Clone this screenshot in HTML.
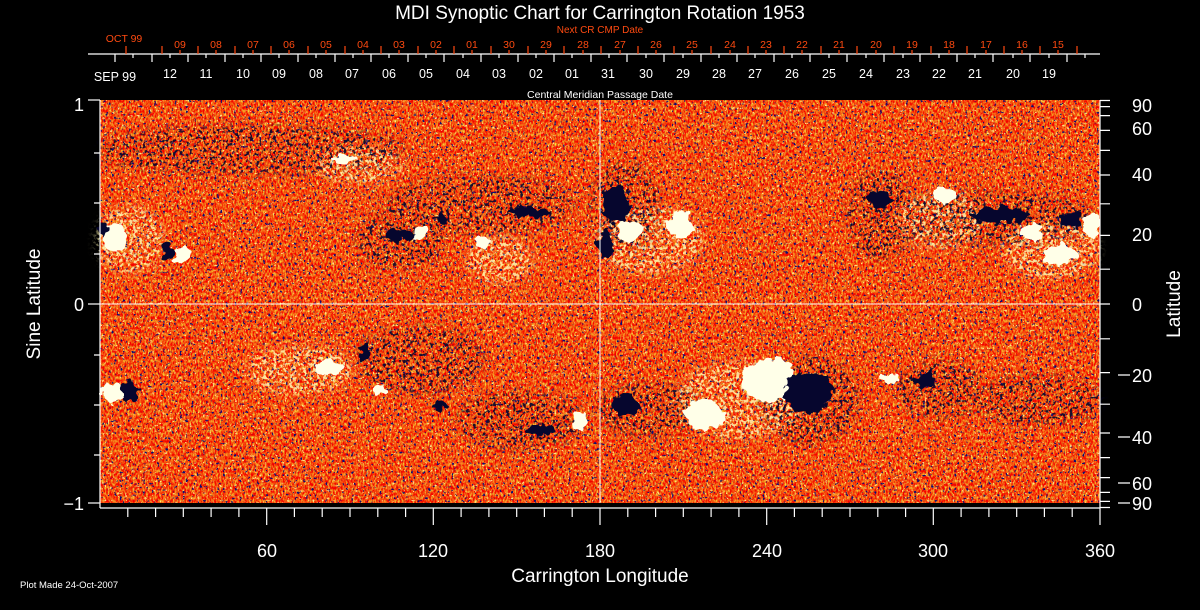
<!DOCTYPE html>
<html><head><meta charset="utf-8"><style>
html,body{margin:0;padding:0;background:#000;}
svg{display:block;}
text{font-family:"Liberation Sans",sans-serif;}
</style></head><body>
<svg width="1200" height="610" viewBox="0 0 1200 610" xmlns="http://www.w3.org/2000/svg">
<defs>
<filter id="tex" x="0" y="0" width="100%" height="100%" color-interpolation-filters="sRGB">
<feTurbulence type="fractalNoise" baseFrequency="0.6 0.3" numOctaves="2" seed="7"/>
<feColorMatrix type="matrix" values="0 0 0 0 0.96  1.7 0 0 0 -0.55  0.5 0 0 0 -0.2  0 0 0 0 1"/>
</filter>
<filter id="dk" x="0" y="0" width="100%" height="100%" color-interpolation-filters="sRGB">
<feTurbulence type="fractalNoise" baseFrequency="0.35" numOctaves="2" seed="3"/>
<feColorMatrix type="matrix" values="0 0 0 0 0.05  0 0 0 0 0.05  0 0 0 0 0.45  12 0 0 0 -7.8"/>
</filter>
<filter id="wt" x="0" y="0" width="100%" height="100%" color-interpolation-filters="sRGB">
<feTurbulence type="fractalNoise" baseFrequency="0.4" numOctaves="2" seed="11"/>
<feColorMatrix type="matrix" values="0 0 0 0 1  0 0 0 0 0.95  0 0 0 0 0.6  12 0 0 0 -8.0"/>
</filter>
<filter id="rag" x="-20%" y="-20%" width="140%" height="140%" color-interpolation-filters="sRGB">
<feTurbulence type="fractalNoise" baseFrequency="0.12" numOctaves="2" seed="5" result="n"/>
<feDisplacementMap in="SourceGraphic" in2="n" scale="14" xChannelSelector="R" yChannelSelector="G"/>
</filter>
<filter id="net" x="-20%" y="-20%" width="140%" height="140%" color-interpolation-filters="sRGB">
<feGaussianBlur stdDeviation="6"/>
<feComponentTransfer result="b"><feFuncA type="linear" slope="2"/></feComponentTransfer>
<feTurbulence type="fractalNoise" baseFrequency="0.3" numOctaves="2" seed="9" result="n"/>
<feColorMatrix in="n" type="matrix" values="0 0 0 0 0  0 0 0 0 0  0 0 0 0 0  10 0 0 0 -5.6" result="m"/>
<feComposite in="b" in2="m" operator="in"/>
</filter>
<filter id="wnet" x="-20%" y="-20%" width="140%" height="140%" color-interpolation-filters="sRGB">
<feGaussianBlur stdDeviation="6"/>
<feComponentTransfer result="b"><feFuncA type="linear" slope="2"/></feComponentTransfer>
<feTurbulence type="fractalNoise" baseFrequency="0.3" numOctaves="2" seed="21" result="n"/>
<feColorMatrix in="n" type="matrix" values="0 0 0 0 0  0 0 0 0 0  0 0 0 0 0  10 0 0 0 -5.2" result="m"/>
<feComposite in="b" in2="m" operator="in"/>
</filter>
</defs>
<rect width="1200" height="610" fill="#000"/>
<rect x="100" y="100" width="1000" height="403" fill="#e8401a"/>
<rect x="100" y="100" width="1000" height="403" filter="url(#tex)"/>
<rect x="100" y="100" width="1000" height="403" filter="url(#wt)" opacity="0.9"/>
<rect x="100" y="100" width="1000" height="403" filter="url(#dk)"/>
<g fill="#fff6b0" filter="url(#wnet)" opacity="0.85">
<ellipse cx="360" cy="165" rx="40" ry="15"/>
<ellipse cx="650" cy="240" rx="50" ry="30"/>
<ellipse cx="740" cy="400" rx="60" ry="35"/>
<ellipse cx="1050" cy="250" rx="45" ry="25"/>
<ellipse cx="300" cy="370" rx="50" ry="20"/>
<ellipse cx="130" cy="240" rx="30" ry="30"/>
<ellipse cx="940" cy="220" rx="40" ry="25"/>
<ellipse cx="500" cy="260" rx="30" ry="20"/>
</g>
<g fill="#06062e" filter="url(#net)" opacity="0.9">
<ellipse cx="990" cy="218" rx="100" ry="22"/>
<ellipse cx="880" cy="215" rx="30" ry="40"/>
<ellipse cx="625" cy="205" rx="30" ry="40"/>
<ellipse cx="650" cy="410" rx="50" ry="22"/>
<ellipse cx="810" cy="400" rx="45" ry="40"/>
<ellipse cx="940" cy="390" rx="40" ry="25"/>
<ellipse cx="480" cy="205" rx="90" ry="25"/>
<ellipse cx="400" cy="240" rx="40" ry="25"/>
<ellipse cx="420" cy="360" rx="60" ry="30"/>
<ellipse cx="520" cy="420" rx="60" ry="25"/>
<ellipse cx="250" cy="150" rx="150" ry="20"/>
<ellipse cx="1040" cy="400" rx="60" ry="20"/>
</g>
<g fill="#ffffe8" filter="url(#rag)">
<ellipse cx="115" cy="238" rx="12" ry="15"/>
<ellipse cx="112" cy="392" rx="12" ry="10"/>
<ellipse cx="182" cy="254" rx="8" ry="8"/>
<ellipse cx="345" cy="160" rx="14" ry="4"/>
<ellipse cx="420" cy="232" rx="8" ry="6"/>
<ellipse cx="483" cy="243" rx="8" ry="5"/>
<ellipse cx="330" cy="368" rx="16" ry="7"/>
<ellipse cx="380" cy="390" rx="7" ry="5"/>
<ellipse cx="580" cy="420" rx="7" ry="10"/>
<ellipse cx="630" cy="230" rx="12" ry="12"/>
<ellipse cx="680" cy="225" rx="14" ry="12"/>
<ellipse cx="705" cy="415" rx="20" ry="16"/>
<ellipse cx="770" cy="380" rx="28" ry="22"/>
<ellipse cx="890" cy="378" rx="9" ry="5"/>
<ellipse cx="1032" cy="232" rx="10" ry="8"/>
<ellipse cx="1060" cy="255" rx="16" ry="11"/>
<ellipse cx="1092" cy="225" rx="8" ry="14"/>
<ellipse cx="945" cy="195" rx="12" ry="7"/>
</g>
<g fill="#06062e" filter="url(#rag)">
<ellipse cx="130" cy="392" rx="10" ry="10"/>
<ellipse cx="168" cy="252" rx="6" ry="10"/>
<ellipse cx="103" cy="228" rx="4" ry="7"/>
<ellipse cx="400" cy="235" rx="16" ry="6"/>
<ellipse cx="440" cy="218" rx="7" ry="6"/>
<ellipse cx="530" cy="212" rx="20" ry="5"/>
<ellipse cx="365" cy="352" rx="6" ry="8"/>
<ellipse cx="440" cy="405" rx="9" ry="4"/>
<ellipse cx="540" cy="430" rx="15" ry="5"/>
<ellipse cx="615" cy="205" rx="14" ry="18"/>
<ellipse cx="605" cy="245" rx="7" ry="15"/>
<ellipse cx="625" cy="405" rx="16" ry="9"/>
<ellipse cx="808" cy="392" rx="24" ry="20"/>
<ellipse cx="880" cy="200" rx="12" ry="9"/>
<ellipse cx="1000" cy="215" rx="30" ry="8"/>
<ellipse cx="1070" cy="220" rx="11" ry="8"/>
<ellipse cx="925" cy="380" rx="12" ry="7"/>
</g>
<line x1="600" y1="100" x2="600" y2="508" stroke="#fff" stroke-width="1"/>
<line x1="100" y1="304" x2="1100" y2="304" stroke="#fff" stroke-width="1"/>
<rect x="100" y="503" width="1000" height="5" fill="#000"/>
<g stroke="#fff" stroke-width="1.2" fill="none">
<line x1="100" y1="100" x2="100" y2="508"/>
<line x1="1100" y1="100" x2="1100" y2="508"/>
<line x1="100" y1="508" x2="1100" y2="508"/>
<line x1="88" y1="100" x2="100" y2="100"/>
<line x1="88" y1="304" x2="100" y2="304"/>
<line x1="88" y1="503" x2="100" y2="503"/>
<path d="M94 153H100M94 203H100M94 254H100M94 355H100M94 405H100M94 455H100"/>
<path d="M127.8 508v9M155.6 508v9M183.3 508v9M211.1 508v9M238.9 508v9M266.7 508v17M294.4 508v9M322.2 508v9M350 508v9M377.8 508v9M405.6 508v9M433.3 508v17M461.1 508v9M488.9 508v9M516.7 508v9M544.4 508v9M572.2 508v9M600 508v17M627.8 508v9M655.6 508v9M683.3 508v9M711.1 508v9M738.9 508v9M766.7 508v17M794.4 508v9M822.2 508v9M850 508v9M877.8 508v9M905.6 508v9M933.3 508v17M961.1 508v9M988.9 508v9M1016.7 508v9M1044.4 508v9M1072.2 508v9M1100 508v17"/>
<path d="M1100 100.5h10M1100 106.6h10M1100 115.6h10M1100 130.4h10M1100 150.4h10M1100 175h10M1100 203.8h10M1100 235.4h10M1100 269.2h10M1100 304h10M1100 338.8h10M1100 372.6h10M1100 404.2h10M1100 433h10M1100 457.6h10M1100 477.6h10M1100 492.4h10M1100 501.4h10M1100 507.5h10"/>
<path d="M1118 375h12M1118 437h12M1118 483h12M1118 503h12"/>
<line x1="88" y1="54" x2="1100" y2="54"/>
</g>
<g stroke="#fff" stroke-width="1.2">
<path d="M115 54v8M152 54v8M188 54v8M225 54v8M261 54v8M298 54v8M335 54v8M371 54v8M408 54v8M444 54v8M481 54v8M518 54v8M554 54v8M591 54v8M627 54v8M664 54v8M701 54v8M737 54v8M774 54v8M810 54v8M847 54v8M884 54v8M920 54v8M957 54v8M993 54v8M1030 54v8M1067 54v8"/>
<path d="M133 54v4M170 54v4M206 54v4M243 54v4M279 54v4M316 54v4M353 54v4M389 54v4M426 54v4M463 54v4M499 54v4M536 54v4M572 54v4M609 54v4M646 54v4M683 54v4M719 54v4M755 54v4M792 54v4M829 54v4M866 54v4M903 54v4M939 54v4M975 54v4M1013 54v4M1049 54v4M1085 54v4"/>
</g>
<g stroke="#ff4a10" stroke-width="1.2">
<path d="M126 54v-8M162 54v-8M198 54v-8M235 54v-8M271 54v-8M308 54v-8M345 54v-8M381 54v-8M418 54v-8M454 54v-8M491 54v-8M528 54v-8M564 54v-8M601 54v-8M638 54v-8M674 54v-8M711 54v-8M748 54v-8M784 54v-8M821 54v-8M857 54v-8M894 54v-8M931 54v-8M967 54v-8M1004 54v-8M1040 54v-8M1077 54v-8"/>
<path d="M180 54v-4M216 54v-4M253 54v-4M289 54v-4M326 54v-4M363 54v-4M399 54v-4M436 54v-4M472 54v-4M509 54v-4M546 54v-4M583 54v-4M620 54v-4M656 54v-4M692 54v-4M730 54v-4M766 54v-4M802 54v-4M839 54v-4M876 54v-4M912 54v-4M949 54v-4M986 54v-4M1022 54v-4M1058 54v-4"/>
</g>
<text x="600" y="19" fill="#fff" font-size="19" text-anchor="middle">MDI Synoptic Chart for Carrington Rotation 1953</text>
<text x="600" y="33" fill="#ff4a10" font-size="10" text-anchor="middle">Next CR CMP Date</text>
<text x="600" y="98" fill="#fff" font-size="10.5" text-anchor="middle">Central Meridian Passage Date</text>
<g fill="#ff4a10" font-size="10.5" text-anchor="middle">
<text x="124" y="42">OCT 99</text>
<text x="180" y="48">09</text><text x="216" y="48">08</text><text x="253" y="48">07</text><text x="289" y="48">06</text><text x="326" y="48">05</text><text x="363" y="48">04</text><text x="399" y="48">03</text><text x="436" y="48">02</text><text x="472" y="48">01</text><text x="509" y="48">30</text><text x="546" y="48">29</text><text x="583" y="48">28</text><text x="620" y="48">27</text><text x="656" y="48">26</text><text x="692" y="48">25</text><text x="730" y="48">24</text><text x="766" y="48">23</text><text x="802" y="48">22</text><text x="839" y="48">21</text><text x="876" y="48">20</text><text x="912" y="48">19</text><text x="949" y="48">18</text><text x="986" y="48">17</text><text x="1022" y="48">16</text><text x="1058" y="48">15</text>
</g>
<g fill="#fff" font-size="12.5" text-anchor="middle">
<text x="115" y="81">SEP 99</text>
<text x="170" y="78">12</text><text x="206" y="78">11</text><text x="243" y="78">10</text><text x="279" y="78">09</text><text x="316" y="78">08</text><text x="352" y="78">07</text><text x="389" y="78">06</text><text x="426" y="78">05</text><text x="463" y="78">04</text><text x="499" y="78">03</text><text x="536" y="78">02</text><text x="572" y="78">01</text><text x="608" y="78">31</text><text x="646" y="78">30</text><text x="683" y="78">29</text><text x="719" y="78">28</text><text x="755" y="78">27</text><text x="792" y="78">26</text><text x="829" y="78">25</text><text x="866" y="78">24</text><text x="903" y="78">23</text><text x="939" y="78">22</text><text x="975" y="78">21</text><text x="1013" y="78">20</text><text x="1049" y="78">19</text>
</g>
<g fill="#fff" font-size="18" text-anchor="end">
<text x="84" y="111">1</text>
<text x="84" y="311">0</text>
<text x="84" y="510">−1</text>
</g>
<g fill="#fff" font-size="18">
<text x="1132" y="112">90</text>
<text x="1132" y="135">60</text>
<text x="1132" y="181">40</text>
<text x="1132" y="241">20</text>
<text x="1132" y="311">0</text>
<text x="1132" y="382">20</text>
<text x="1132" y="444">40</text>
<text x="1132" y="490">60</text>
<text x="1132" y="510">90</text>
</g>
<g fill="#fff" font-size="18" text-anchor="middle">
<text x="267" y="557">60</text><text x="433" y="557">120</text><text x="600" y="557">180</text><text x="767" y="557">240</text><text x="933" y="557">300</text><text x="1100" y="557">360</text>
</g>
<text x="600" y="582" fill="#fff" font-size="19" text-anchor="middle">Carrington Longitude</text>
<text x="40" y="304" fill="#fff" font-size="19" text-anchor="middle" transform="rotate(-90 40 304)">Sine Latitude</text>
<text x="1180" y="304" fill="#fff" font-size="19" text-anchor="middle" transform="rotate(-90 1180 304)">Latitude</text>
<text x="20" y="588" fill="#fff" font-size="9.5">Plot Made 24-Oct-2007</text>
</svg>
</body></html>
